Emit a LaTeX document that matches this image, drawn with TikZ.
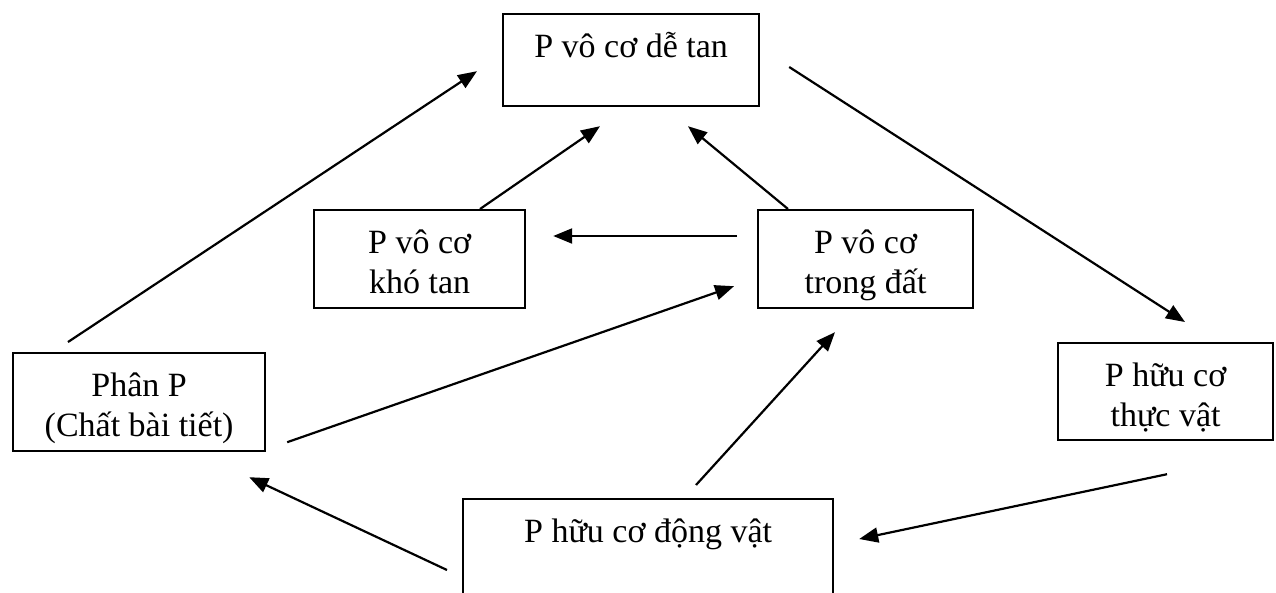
\documentclass[tikz,border=0pt]{standalone}
\usepackage{fontspec}
\setmainfont{Liberation Serif}
\usetikzlibrary{arrows.meta}
\newcommand\tstr{\rule{0pt}{43pt}}
\newcommand\bstr[1]{\rule[-#1pt]{0pt}{#1pt}}
\begin{document}
\begin{tikzpicture}[x=1pt,y=-1pt,
  box/.style={draw, line width=2.2pt, inner sep=0pt, align=center, anchor=north west,
    font=\fontsize{34}{40}\selectfont},
  arr/.style={line width=2.2pt, -{Triangle[length=19pt,width=15pt]}}]
\clip (0,0) rectangle (1276,592);
\fill[white] (0,0) rectangle (1276,592);
\node[box, minimum width=256pt] (detan) at (502,13) {\tstr P vô cơ dễ tan\\\bstr{9}};
\node[box, minimum width=211pt] (khotan) at (313,209) {\tstr P vô cơ\\khó tan\bstr{15}};
\node[box, minimum width=215pt] (dat) at (757,209) {\tstr P vô cơ\\trong đất\bstr{15}};
\node[box, minimum width=252pt] (phan) at (12,352) {\tstr Phân P\\(Chất bài tiết)\bstr{15}};
\node[box, minimum width=215pt] (thucvat) at (1057,342) {\tstr P hữu cơ\\thực vật\bstr{14}};
\node[box, minimum width=370pt] (dongvat) at (462,498) {\tstr P hữu cơ động vật\\\bstr{39}};
% connectors
\draw[arr] ([shift={(56,-10)}]phan.north west) -- ([shift={(-25,-36)}]detan.south west);
\draw[arr] ([shift={(167,0)}]khotan.north west) -- ([shift={(98,19)}]detan.south west);
\draw[arr] ([shift={(31,0)}]dat.north west) -- ([shift={(186,19)}]detan.south west);
\draw[arr] ([shift={(-20,27)}]dat.north west) -- ([shift={(27,27)}]khotan.north east);
\draw[arr] ([shift={(29,54)}]detan.north east) -- ([shift={(128,-20)}]thucvat.north west);
\draw[arr] ([shift={(21,-10)}]phan.south east) -- ([shift={(-23,-23)}]dat.south west);
\draw[arr] ([shift={(234,-13)}]dongvat.north west) -- ([shift={(78,23)}]dat.south west);
\draw[arr] ([shift={(110,33)}]thucvat.south west) -- ([shift={(25,41)}]dongvat.north east);
\draw[arr] ([shift={(-15,72)}]dongvat.north west) -- ([shift={(-17,25)}]phan.south east);
\end{tikzpicture}
\end{document}
